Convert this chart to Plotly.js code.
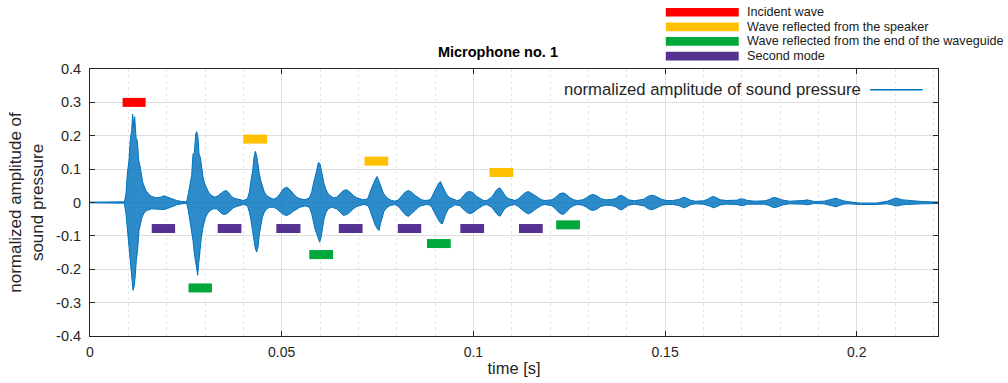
<!DOCTYPE html>
<html>
<head>
<meta charset="utf-8">
<script src="https://cdn.plot.ly/plotly-3.0.1.min.js"></script>
<style>html,body{margin:0;padding:0;background:#fff;}#chart{width:1008px;height:383px;}</style>
</head>
<body>
<div id="chart"></div>
<script>
// ---------- DATA ----------
// upper envelope of the microphone signal: [time s, amplitude]
const upperEnvelope = [
 [0,0.001],[0.005,0.002],[0.0088,0.002],
 [0.00896,0.0],[0.00939,0.026],[0.00974,0.086],[0.01017,0.126],[0.01052,0.19],[0.01087,0.215],[0.01113,0.265],[0.01139,0.225],[0.01165,0.257],[0.0120,0.195],[0.01235,0.185],[0.0127,0.126],[0.01304,0.11],[0.01339,0.081],[0.01374,0.061],[0.01418,0.048],[0.01461,0.036],[0.01522,0.026],[0.01609,0.018],[0.01739,0.014],[0.01844,0.016],[0.01931,0.02],[0.02018,0.016],[0.0213,0.01],[0.02261,0.006],[0.02392,0.003],[0.02505,0.002],
 [0.02522,0.002],[0.02565,0.026],[0.02609,0.056],[0.02652,0.081],[0.02687,0.145],[0.02722,0.15],[0.02757,0.205],[0.02783,0.212],[0.02818,0.195],[0.02844,0.145],[0.02879,0.135],[0.02913,0.096],[0.02948,0.076],[0.02992,0.056],[0.03044,0.041],[0.03105,0.028],[0.03174,0.021],[0.03261,0.016],[0.03348,0.021],[0.03409,0.028],[0.03479,0.033],[0.03548,0.036],[0.03609,0.031],[0.0367,0.021],[0.03739,0.014],[0.03826,0.011],[0.03913,0.008],[0.04,0.006],
 [0.04105,0.011],[0.04157,0.031],[0.042,0.066],[0.04244,0.096],[0.04279,0.136],[0.04313,0.153],[0.04348,0.14],[0.04383,0.106],[0.04418,0.086],[0.04453,0.066],[0.04496,0.046],[0.04548,0.031],[0.04609,0.021],[0.04696,0.014],[0.04783,0.01],[0.0487,0.014],[0.04957,0.026],[0.05044,0.041],[0.05131,0.046],[0.05218,0.038],[0.05305,0.026],[0.05392,0.016],[0.05479,0.011],[0.05609,0.008],
 [0.05722,0.014],[0.05783,0.031],[0.05827,0.056],[0.0587,0.081],[0.05914,0.096],[0.05957,0.12],[0.06001,0.116],[0.06035,0.096],[0.0607,0.071],[0.06105,0.056],[0.06148,0.041],[0.062,0.028],[0.06261,0.021],[0.06348,0.014],[0.06435,0.016],[0.06522,0.026],[0.06609,0.036],[0.06696,0.038],[0.06783,0.031],[0.0687,0.021],[0.06957,0.014],[0.07044,0.011],[0.07131,0.008],[0.07218,0.01],
 [0.07262,0.016],[0.07305,0.031],[0.07349,0.046],[0.07392,0.056],[0.07436,0.068],[0.07488,0.078],[0.07531,0.066],[0.07566,0.054],[0.07609,0.041],[0.07653,0.028],[0.07714,0.018],[0.07783,0.011],[0.0787,0.006],[0.07957,0.004],[0.08044,0.008],[0.08131,0.018],[0.08218,0.031],[0.08305,0.036],[0.08392,0.031],[0.08479,0.021],[0.08566,0.014],[0.08653,0.008],[0.0874,0.006],[0.0887,0.008],
 [0.08914,0.016],[0.08957,0.026],[0.09001,0.036],[0.09044,0.048],[0.09096,0.058],[0.0914,0.063],[0.09183,0.054],[0.09227,0.041],[0.0927,0.031],[0.09323,0.021],[0.09392,0.014],[0.09479,0.01],[0.09566,0.006],[0.09653,0.008],[0.0974,0.021],[0.09827,0.031],[0.09914,0.033],[0.10001,0.028],[0.10088,0.018],[0.10175,0.011],[0.10262,0.006],[0.10348,0.006],
 [0.10479,0.016],[0.1054,0.026],[0.10592,0.036],[0.10644,0.041],[0.10688,0.044],[0.10731,0.038],[0.10784,0.028],[0.10844,0.018],[0.10914,0.012],[0.11001,0.008],[0.11088,0.006],[0.11175,0.011],[0.11262,0.021],[0.11349,0.029],[0.11436,0.033],[0.11523,0.028],[0.1161,0.021],[0.11697,0.014],[0.11784,0.008],[0.11871,0.006],
 [0.1205,0.008],[0.1215,0.016],[0.1225,0.026],[0.1234,0.029],[0.1243,0.024],[0.1252,0.014],[0.1262,0.008],[0.1272,0.006],
 [0.1285,0.008],[0.1295,0.014],[0.1305,0.022],[0.1313,0.024],[0.1322,0.02],[0.1332,0.012],[0.1345,0.008],[0.136,0.009],
 [0.1372,0.012],[0.138,0.02],[0.1387,0.021],[0.1395,0.016],[0.1405,0.008],[0.142,0.005],[0.1435,0.007],
 [0.1445,0.01],[0.1455,0.018],[0.1464,0.022],[0.1473,0.02],[0.1482,0.014],[0.1492,0.009],[0.1505,0.006],[0.152,0.006],
 [0.1535,0.009],[0.1543,0.014],[0.155,0.016],[0.1558,0.012],[0.1568,0.006],[0.158,0.004],[0.16,0.005],
 [0.1612,0.01],[0.162,0.016],[0.1627,0.018],[0.1635,0.013],[0.1645,0.008],[0.166,0.006],
 [0.1688,0.007],[0.1697,0.011],[0.1705,0.01],[0.1715,0.006],[0.1735,0.004],[0.176,0.005],
 [0.1772,0.009],[0.178,0.014],[0.1788,0.015],[0.1797,0.011],[0.1808,0.007],[0.1825,0.004],[0.185,0.004],
 [0.1862,0.006],[0.187,0.008],[0.1878,0.006],[0.189,0.003],[0.1915,0.004],
 [0.193,0.008],[0.1938,0.012],[0.1946,0.013],[0.1955,0.009],[0.1965,0.005],[0.198,0.002],[0.201,-0.002],[0.205,-0.002],[0.208,0.004],
 [0.2092,0.009],[0.21,0.013],[0.2108,0.012],[0.2118,0.008],[0.213,0.007],[0.2145,0.005],[0.217,0.003],[0.2212,0.001]
];
// lower envelope of the microphone signal: [time s, amplitude]
const lowerEnvelope = [
 [0,-0.001],[0.005,-0.001],[0.0088,-0.002],
 [0.00896,-0.002],[0.00939,-0.034],[0.00974,-0.074],[0.01017,-0.134],[0.01052,-0.183],[0.01087,-0.223],[0.01122,-0.263],[0.01148,-0.253],[0.01174,-0.228],[0.01209,-0.173],[0.01244,-0.139],[0.01278,-0.084],[0.01313,-0.064],[0.01357,-0.044],[0.01409,-0.032],[0.01478,-0.024],[0.01609,-0.019],[0.01739,-0.02],[0.01844,-0.022],[0.01931,-0.021],[0.02018,-0.018],[0.0213,-0.012],[0.02261,-0.007],[0.02392,-0.004],[0.02505,-0.002],
 [0.02522,-0.002],[0.02565,-0.024],[0.02609,-0.054],[0.02652,-0.084],[0.02687,-0.114],[0.02722,-0.153],[0.02757,-0.183],[0.02792,-0.213],[0.02809,-0.218],[0.02835,-0.183],[0.0287,-0.134],[0.02905,-0.104],[0.02948,-0.074],[0.03,-0.049],[0.03061,-0.034],[0.03131,-0.024],[0.03218,-0.019],[0.03305,-0.019],[0.03392,-0.029],[0.03479,-0.036],[0.03566,-0.034],[0.03653,-0.024],[0.03739,-0.016],[0.03826,-0.012],[0.03913,-0.009],[0.04,-0.006],
 [0.04105,-0.009],[0.04157,-0.029],[0.042,-0.054],[0.04244,-0.084],[0.04279,-0.114],[0.04313,-0.139],[0.04348,-0.148],[0.04383,-0.134],[0.04418,-0.094],[0.04453,-0.069],[0.04496,-0.044],[0.04548,-0.029],[0.04609,-0.019],[0.04696,-0.014],[0.04783,-0.014],[0.0487,-0.019],[0.04957,-0.029],[0.05044,-0.036],[0.05131,-0.039],[0.05218,-0.034],[0.05305,-0.026],[0.05392,-0.019],[0.05479,-0.014],[0.05609,-0.01],
 [0.05722,-0.014],[0.05783,-0.034],[0.05827,-0.059],[0.0587,-0.079],[0.05914,-0.094],[0.05957,-0.109],[0.05992,-0.119],[0.06027,-0.104],[0.06061,-0.074],[0.06105,-0.049],[0.06157,-0.029],[0.06218,-0.019],[0.06305,-0.014],[0.06435,-0.019],[0.06522,-0.029],[0.06609,-0.039],[0.06696,-0.036],[0.06783,-0.029],[0.0687,-0.019],[0.06957,-0.012],[0.07044,-0.009],[0.07131,-0.006],[0.07218,-0.008],
 [0.07262,-0.012],[0.07305,-0.024],[0.07349,-0.039],[0.07392,-0.054],[0.07444,-0.069],[0.07497,-0.079],[0.0754,-0.084],[0.07575,-0.064],[0.07618,-0.044],[0.0767,-0.026],[0.0774,-0.016],[0.07827,-0.009],[0.07957,-0.006],[0.08044,-0.012],[0.08131,-0.024],[0.08218,-0.036],[0.08305,-0.042],[0.08392,-0.034],[0.08479,-0.024],[0.08566,-0.014],[0.08653,-0.009],[0.08783,-0.006],[0.0887,-0.008],
 [0.08914,-0.014],[0.08957,-0.024],[0.09001,-0.034],[0.09044,-0.044],[0.09096,-0.054],[0.09149,-0.062],[0.09192,-0.064],[0.09236,-0.049],[0.09288,-0.032],[0.09349,-0.019],[0.09436,-0.012],[0.09522,-0.007],[0.09635,-0.009],[0.0974,-0.019],[0.09827,-0.029],[0.09914,-0.034],[0.10001,-0.029],[0.10088,-0.021],[0.10175,-0.014],[0.10262,-0.008],[0.10348,-0.006],
 [0.10479,-0.014],[0.1054,-0.024],[0.10592,-0.032],[0.10653,-0.039],[0.10696,-0.041],[0.10749,-0.032],[0.10801,-0.021],[0.1087,-0.014],[0.10957,-0.009],[0.11088,-0.006],[0.11175,-0.012],[0.11262,-0.021],[0.11349,-0.029],[0.11436,-0.034],[0.11523,-0.029],[0.1161,-0.021],[0.11697,-0.014],[0.11784,-0.008],[0.11871,-0.006],
 [0.1205,-0.01],[0.1215,-0.02],[0.1225,-0.032],[0.1234,-0.036],[0.1243,-0.028],[0.1252,-0.016],[0.1262,-0.009],[0.1272,-0.006],
 [0.1285,-0.008],[0.1295,-0.014],[0.1305,-0.022],[0.1313,-0.024],[0.1322,-0.02],[0.1332,-0.012],[0.1345,-0.008],[0.136,-0.009],
 [0.1372,-0.013],[0.138,-0.02],[0.1387,-0.022],[0.1395,-0.016],[0.1405,-0.008],[0.142,-0.005],[0.1435,-0.007],
 [0.1445,-0.01],[0.1455,-0.018],[0.1464,-0.022],[0.1473,-0.019],[0.1482,-0.013],[0.1492,-0.008],[0.1505,-0.006],[0.152,-0.006],
 [0.1535,-0.009],[0.1543,-0.014],[0.155,-0.016],[0.1558,-0.012],[0.1568,-0.006],[0.158,-0.004],[0.16,-0.005],
 [0.1612,-0.009],[0.162,-0.014],[0.1627,-0.016],[0.1635,-0.012],[0.1645,-0.007],[0.166,-0.005],
 [0.1688,-0.006],[0.1697,-0.009],[0.1705,-0.009],[0.1715,-0.005],[0.1735,-0.004],[0.176,-0.005],
 [0.1772,-0.009],[0.178,-0.014],[0.1788,-0.015],[0.1797,-0.011],[0.1808,-0.007],[0.1825,-0.004],[0.185,-0.004],
 [0.1862,-0.005],[0.187,-0.007],[0.1878,-0.005],[0.189,-0.003],[0.1915,-0.004],
 [0.193,-0.008],[0.1938,-0.012],[0.1946,-0.013],[0.1955,-0.009],[0.1965,-0.005],[0.198,-0.004],[0.201,-0.006],[0.205,-0.006],[0.208,-0.004],
 [0.2092,-0.007],[0.21,-0.01],[0.2108,-0.01],[0.2118,-0.007],[0.213,-0.006],[0.2145,-0.005],[0.217,-0.004],[0.2212,-0.003]
];

// marker bars: start time, end time, level
const incidentStart = [0.0085];
const incidentEnd   = [0.0145];
const incidentLevel = [0.30];

const speakerStart = [0.0400, 0.0716, 0.1042];
const speakerEnd   = [0.0462, 0.0778, 0.1104];
const speakerLevel = [0.19, 0.124, 0.090];

const endStart = [0.0257, 0.0572, 0.0879, 0.1216];
const endEnd   = [0.0318, 0.0634, 0.0941, 0.1278];
const endLevel = [-0.256, -0.156, -0.123, -0.067];

const modeStart = [0.0161, 0.0333, 0.0486, 0.0649, 0.0803, 0.0966, 0.1119];
const modeEnd   = [0.0222, 0.0395, 0.0549, 0.0711, 0.0864, 0.1028, 0.1181];
const modeLevel = [-0.078, -0.078, -0.078, -0.078, -0.078, -0.078, -0.078];

const barNames  = ['Incident wave', 'Wave reflected from the speaker', 'Wave reflected from the end of the waveguide', 'Second mode'];
const barColors = ['#ff0000', '#ffc000', '#00a83c', '#553291'];

const xTickVals = [0, 0.05, 0.1, 0.15, 0.2];
const xTickText = ['0', '0.05', '0.1', '0.15', '0.2'];
const yTickVals = [-0.4, -0.3, -0.2, -0.1, 0, 0.1, 0.2, 0.3, 0.4];
const yTickText = ['-0.4', '-0.3', '-0.2', '-0.1', '0', '0.1', '0.2', '0.3', '0.4'];

const seriesName = 'normalized amplitude of sound pressure';
const titleText = 'Microphone no. 1';

// ---------- BUILD ----------
const FONT = 'Liberation Sans, Arial, Helvetica, sans-serif';
const TXT = '#262626';
const BLUE = '#0072bd';

function segments(starts, ends, levels) {
  const x = [], y = [];
  for (let i = 0; i < starts.length; i++) {
    x.push(starts[i], ends[i], null);
    y.push(levels[i], levels[i], null);
  }
  return {x, y};
}

const traces = [];
traces.push({
  x: upperEnvelope.map(p => p[0]), y: upperEnvelope.map(p => p[1]),
  type: 'scatter', mode: 'lines', name: seriesName,
  line: {color: BLUE, width: 1}, showlegend: false, hoverinfo: 'skip'
});
traces.push({
  x: lowerEnvelope.map(p => p[0]), y: lowerEnvelope.map(p => p[1]),
  type: 'scatter', mode: 'lines', name: seriesName,
  line: {color: BLUE, width: 1}, fill: 'tonexty', fillcolor: 'rgba(0,114,189,0.82)',
  showlegend: false, hoverinfo: 'skip'
});

const barSets = [
  segments(incidentStart, incidentEnd, incidentLevel),
  segments(speakerStart, speakerEnd, speakerLevel),
  segments(endStart, endEnd, endLevel),
  segments(modeStart, modeEnd, modeLevel)
];
barSets.forEach((s, i) => {
  traces.push({
    x: s.x, y: s.y, type: 'scatter', mode: 'lines', name: barNames[i],
    line: {color: barColors[i], width: 9}, showlegend: false, hoverinfo: 'skip'
  });
});

// legends drawn as decorations
const shapes = [];
const annotations = [];
// series legend box
shapes.push({type: 'rect', xref: 'paper', yref: 'paper', x0: 0.546, x1: 0.994, y0: 0.864, y1: 0.987,
  fillcolor: '#ffffff', line: {width: 0}, layer: 'between'});
shapes.push({type: 'line', xref: 'paper', yref: 'paper', x0: 0.920, x1: 0.982, y0: 0.9226, y1: 0.9226,
  line: {color: BLUE, width: 1.5}, layer: 'above'});
annotations.push({xref: 'paper', yref: 'paper', x: 0.5566, y: 0.9226, xanchor: 'left', yanchor: 'middle',
  text: seriesName, showarrow: false, font: {family: FONT, size: 16.7, color: TXT}});
// bar legend (above plot)
const legendY = [1.2126, 1.1581, 1.1031, 1.0482];
barNames.forEach((n, i) => {
  shapes.push({type: 'rect', xref: 'paper', yref: 'paper', x0: 0.679, x1: 0.765,
    y0: legendY[i] - 0.0163, y1: legendY[i] + 0.0163, fillcolor: barColors[i], line: {width: 0}});
  annotations.push({xref: 'paper', yref: 'paper', x: 0.7725, y: legendY[i], xanchor: 'left', yanchor: 'middle',
    text: n, showarrow: false, font: {family: FONT, size: 12.6, color: '#1a1a1a'}});
});

const layout = {
  width: 1008, height: 383,
  margin: {l: 90, r: 70, t: 69, b: 47},
  paper_bgcolor: '#ffffff', plot_bgcolor: '#ffffff',
  font: {family: FONT, size: 14, color: TXT},
  showlegend: false,
  title: {text: '<b>' + titleText + '</b>', font: {family: FONT, size: 14.5, color: '#000'},
    xref: 'container', x: 0.494, xanchor: 'center', yref: 'container', y: 0.864, yanchor: 'middle'},
  xaxis: {
    range: [0, 0.2212], tickvals: xTickVals, ticktext: xTickText,
    ticks: 'inside', ticklen: 5, tickcolor: TXT, showline: true, linecolor: TXT, linewidth: 1, mirror: 'ticks',
    showgrid: true, gridcolor: '#dedede', gridwidth: 1, zeroline: false,
    minor: {dtick: 0.01, tick0: 0, showgrid: true, gridcolor: '#e6e6e6', griddash: 'dot', ticks: ''},
    tickfont: {family: FONT, size: 14, color: TXT}, ticklabelstandoff: 3,
    title: {text: 'time [s]', font: {family: FONT, size: 16.5, color: TXT}, standoff: 3},
    automargin: false, fixedrange: true
  },
  yaxis: {
    range: [-0.4, 0.4], tickvals: yTickVals, ticktext: yTickText,
    ticks: 'inside', ticklen: 5, tickcolor: TXT, showline: true, linecolor: TXT, linewidth: 1, mirror: 'ticks',
    showgrid: true, gridcolor: '#dedede', gridwidth: 1, zeroline: false,
    tickfont: {family: FONT, size: 14.5, color: TXT}, ticklabelstandoff: 5,
    title: {text: 'normalized amplitude of<br>sound pressure', font: {family: FONT, size: 17, color: TXT}, standoff: 8},
    automargin: false, fixedrange: true
  },
  shapes: shapes,
  annotations: annotations
};

Plotly.newPlot('chart', traces, layout, {displayModeBar: false, staticPlot: true});
</script>
</body>
</html>
